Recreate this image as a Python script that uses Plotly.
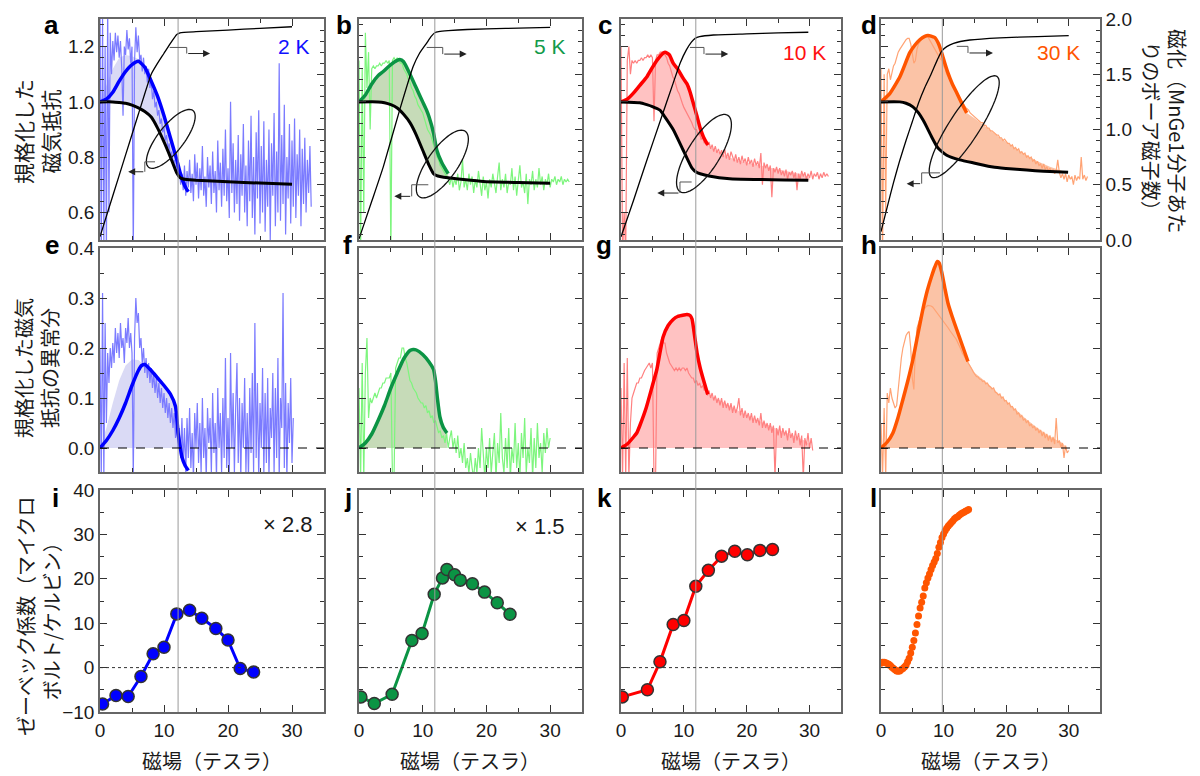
import numpy as np
import plotly.graph_objects as go

# ======================= DATA =======================
# Row 1 raw normalized magnetoresistance (field grid step: 0.2 T for 2 K, 0.25 T otherwise)
mr_raw_2K = [1.35, 0.45, 1.3, 0.5, 1.2, 0.45, 1.35, 0.6, 1.25,
             1.1, 1.22, 1.15, 1.25, 1.18, 1.24, 1.16, 1.22, 1.12, 0.95,
             1.2, 1.17, 1.26, 1.19, 1.23, 1.14, 1.2, 0.45, 1.15, 1.27,
             1.18, 1.24, 1.15, 1.17, 1.11, 1.16, 1.1, 1.13, 1.07, 1.12,
             1.05, 1.08, 1.01, 1.04, 0.98, 1.0, 0.95, 0.97, 0.92, 0.94,
             0.89, 0.91, 0.86, 0.88, 0.83, 0.85, 0.8, 0.82, 0.78, 0.79,
             0.76, 0.77, 0.73, 0.76, 0.7, 0.74, 0.68,
             0.77, 0.66, 0.75, 0.69, 0.79, 0.67, 0.74, 0.64, 0.81, 0.7,
             0.78, 0.65, 0.76, 0.68, 0.84, 0.66, 0.73, 0.62, 0.8, 0.69,
             0.77, 0.63, 0.82, 0.67, 0.75, 0.6, 0.86, 0.68, 0.78, 0.62,
             0.83, 0.66, 0.9, 0.64, 0.76, 0.58, 1.0, 0.67, 0.85, 0.6,
             0.79, 0.63, 0.88, 0.57, 0.81, 0.66, 0.92, 0.6, 0.77, 0.55,
             0.86, 0.64, 0.95, 0.58, 0.8, 0.52, 0.89, 0.65, 0.97, 0.56,
             0.84, 0.6, 0.93, 0.53, 0.79, 0.62, 0.9, 0.5, 0.85, 0.66,
             0.96, 0.55, 0.82, 0.6, 1.14, 0.57, 0.88, 0.63, 0.99, 0.52,
             0.8, 0.65, 0.92, 0.56, 0.86, 0.62, 0.94, 0.58, 0.81, 0.66,
             0.9, 0.55, 0.83, 0.63, 0.87, 0.6, 0.79, 0.67, 0.84, 0.62]
mr_raw_5K = [1.15, 0.45, 1.12, 0.6, 1.25, 1.05, 1.18, 0.9, 1.12, 1.13,
             1.12, 1.13, 1.13, 1.14, 1.13, 1.14, 1.14, 1.15, 1.14, 1.15,
             0.45, 1.15, 1.16, 1.15, 1.16, 1.15, 1.14, 1.14, 1.12, 1.11,
             1.1, 1.08, 1.07, 1.05, 1.04, 1.02, 1.01, 0.99, 0.98, 0.97,
             0.96, 0.94, 0.92, 0.9, 0.89, 0.88, 0.86, 0.84, 0.82, 0.8,
             0.79, 0.77, 0.76, 0.75, 0.74, 0.73, 0.72, 0.7, 0.73, 0.69,
             0.72, 0.7, 0.74, 0.68, 0.71, 0.79, 0.69, 0.72, 0.68, 0.74,
             0.7, 0.73, 0.67, 0.72, 0.69, 0.75, 0.7, 0.66, 0.73, 0.68,
             0.71, 0.65, 0.72, 0.69, 0.74, 0.7, 0.67, 0.73, 0.78, 0.68,
             0.72, 0.69, 0.74, 0.67, 0.71, 0.7, 0.76, 0.68, 0.73, 0.66,
             0.72, 0.77, 0.69, 0.71, 0.67, 0.74, 0.63, 0.72, 0.7, 0.75,
             0.68, 0.72, 0.69, 0.76, 0.7, 0.73, 0.68, 0.72, 0.7, 0.74,
             0.69, 0.72, 0.71, 0.73, 0.7, 0.72, 0.71, 0.73, 0.7, 0.72,
             0.71, 0.72, 0.71]
mr_raw_10K = [1.2, 0.45, 0.6, 0.45, 1.15, 1.2, 1.1, 1.15, 1.14, 1.15,
              1.14, 1.15, 1.15, 1.16, 1.15, 1.16, 1.16, 1.17, 1.16, 1.17,
              1.16, 0.93, 1.15, 1.17, 1.17, 1.18, 1.18, 1.18, 1.17, 1.16,
              1.14, 1.13, 1.11, 1.09, 1.08, 1.06, 1.04, 1.03, 1.01, 0.995,
              0.98, 0.97, 0.955, 0.945, 0.935, 0.925, 0.91, 0.9, 0.9, 0.88,
              0.885, 0.865, 0.87, 0.85, 0.86, 0.84, 0.855, 0.83, 0.845, 0.82,
              0.84, 0.815, 0.83, 0.81, 0.825, 0.8, 0.83, 0.795, 0.815, 0.79,
              0.82, 0.8, 0.785, 0.81, 0.78, 0.8, 0.775, 0.805, 0.78, 0.795,
              0.77, 0.8, 0.775, 0.79, 0.765, 0.795, 0.77, 0.785, 0.76, 0.815,
              0.7, 0.78, 0.76, 0.775, 0.75, 0.77, 0.655, 0.76, 0.745, 0.765,
              0.74, 0.76, 0.735, 0.75, 0.73, 0.755, 0.72, 0.745, 0.735, 0.75,
              0.725, 0.745, 0.68, 0.74, 0.72, 0.75, 0.73, 0.745, 0.72, 0.74,
              0.725, 0.75, 0.72, 0.74, 0.73, 0.745, 0.72, 0.74, 0.725, 0.745,
              0.73, 0.74, 0.73]
mr_raw_30K = [1.12, 0.45, 1.1, 0.6, 1.1, 1.12, 1.08, 1.11, 1.13, 1.14,
              1.16, 1.18, 1.19, 1.2, 1.21, 1.22, 1.225, 1.23, 1.23, 1.21,
              1.17, 1.14, 1.15, 1.19, 1.21, 1.22, 1.23, 1.235, 1.24, 1.24,
              1.235, 1.225, 1.21, 1.2, 1.19, 1.18, 1.17, 1.16, 1.155, 1.15,
              1.13, 1.12, 1.1, 1.09, 1.08, 1.07, 1.06, 1.045, 1.035, 1.025,
              1.015, 1.005, 0.995, 0.99, 0.98, 0.975, 0.97, 0.96, 0.955, 0.95,
              0.945, 0.94, 0.935, 0.93, 0.925, 0.925, 0.915, 0.915, 0.905, 0.905,
              0.895, 0.895, 0.89, 0.885, 0.88, 0.88, 0.87, 0.87, 0.86, 0.865,
              0.855, 0.85, 0.85, 0.84, 0.845, 0.83, 0.835, 0.825, 0.83, 0.815,
              0.82, 0.81, 0.815, 0.8, 0.805, 0.795, 0.8, 0.785, 0.79, 0.775,
              0.785, 0.77, 0.775, 0.76, 0.775, 0.755, 0.765, 0.75, 0.76, 0.745,
              0.755, 0.74, 0.75, 0.79, 0.745, 0.725, 0.74, 0.72, 0.74, 0.71,
              0.735, 0.72, 0.73, 0.7, 0.735, 0.715, 0.73, 0.72, 0.8, 0.72,
              0.735, 0.715, 0.73]

# Row 2 raw anomalous part
an_raw_2K = [0.2, -0.06, 0.31, -0.06, 0.25, 0.05, 0.19, 0.13, 0.2, 0.16,
             0.21, 0.17, 0.24, 0.19, 0.23, 0.18, 0.25, 0.2, 0.22, 0.17,
             0.24, 0.21, 0.26, 0.2, 0.23, 0.19, -0.06, 0.22, 0.3, 0.25,
             0.27, 0.2, 0.22, 0.17, 0.2, 0.15, 0.18, 0.14, 0.17, 0.13,
             0.16, 0.12, 0.15, 0.11, 0.14, 0.1, 0.13, 0.09, 0.12, 0.08,
             0.11, 0.07, 0.1, 0.06, 0.09, 0.05, 0.08, 0.04, 0.07, 0.02,
             0.05, 0.0, 0.04, -0.02, 0.06, -0.03, 0.04, -0.05, 0.06, -0.02,
             0.08, -0.04, 0.03, -0.06, 0.07, 0.0, 0.09, -0.03, 0.05, -0.05,
             0.1, -0.02, 0.04, -0.06, 0.08, 0.01, 0.06, -0.05, 0.11, -0.01,
             0.05, -0.06, 0.12, 0.0, 0.07, -0.05, 0.1, -0.02, 0.18, -0.04,
             0.06, -0.06, 0.19, 0.0, 0.11, -0.05, 0.08, 0.17, -0.03, 0.1,
             -0.06, 0.09, 0.0, 0.14, -0.05, 0.07, -0.06, 0.12, -0.01, 0.15,
             -0.05, 0.25, -0.02, 0.13, -0.06, 0.09, 0.0, 0.16, -0.05, 0.11,
             -0.03, 0.14, -0.06, 0.08, 0.02, 0.15, -0.05, 0.12, -0.02, 0.18,
             -0.06, 0.1, 0.04, 0.31, -0.04, 0.13, -0.06, 0.09, 0.01, 0.14,
             -0.03, 0.06]
an_raw_5K = [0.12, -0.06, 0.17, -0.06, 0.15, 0.22, 0.06, 0.1, 0.09, 0.1,
             0.11, 0.1, 0.11, 0.12, 0.12, 0.13, 0.13, 0.14, 0.14, 0.14,
             0.15, -0.06, -0.06, 0.16, 0.17, 0.18, 0.18, 0.2, 0.2, 0.18,
             0.17, 0.15, 0.135, 0.13, 0.12, 0.115, 0.11, 0.1, 0.095, 0.09,
             0.09, 0.08, 0.085, 0.07, 0.075, 0.06, 0.065, 0.05, 0.055, 0.04,
             0.03, 0.035, 0.02, 0.025, 0.01, 0.03, 0.0, 0.02, 0.035, 0.0,
             0.02, -0.01, 0.025, -0.02, 0.0, -0.03, 0.01, -0.04, -0.02, -0.05,
             -0.01, -0.04, -0.06, -0.02, -0.05, 0.0, -0.04, 0.04, -0.03, -0.06,
             0.0, -0.04, 0.02, -0.05, -0.01, 0.03, -0.06, 0.01, -0.03, 0.07,
             -0.02, -0.05, 0.02, -0.04, 0.04, -0.06, 0.0, -0.03, 0.05, -0.04,
             0.01, -0.06, 0.03, -0.02, 0.06, -0.05, 0.0, -0.03, 0.04, -0.06,
             0.02, -0.04, 0.05, -0.02, 0.01, -0.05, 0.03, -0.01, 0.04, 0.0,
             0.02]
an_raw_10K = [0.12, -0.06, 0.17, -0.06, 0.18, -0.06, 0.05, 0.1, 0.11, 0.12,
              0.13, 0.13, 0.14, 0.14, 0.15, 0.155, 0.16, 0.165, 0.17, 0.16,
              0.17, -0.06, -0.06, 0.19, 0.2, 0.21, 0.22, 0.21, 0.21, 0.19,
              0.18, 0.17, 0.165, 0.16, 0.155, 0.16, 0.155, 0.16, 0.155, 0.16,
              0.16, 0.155, 0.16, 0.15, 0.145, 0.14, 0.14, 0.13, 0.135, 0.125,
              0.13, 0.12, 0.125, 0.115, 0.12, 0.105, 0.115, 0.1, 0.11, 0.095,
              0.105, 0.09, 0.1, 0.085, 0.1, 0.08, 0.095, 0.08, 0.09, 0.075,
              0.09, 0.07, 0.085, 0.07, 0.08, 0.1, 0.065, 0.08, 0.06, 0.075,
              0.06, 0.07, 0.055, 0.07, 0.05, 0.065, 0.05, 0.06, 0.045, 0.07,
              0.04, 0.055, 0.04, 0.05, 0.035, 0.05, 0.03, 0.045, -0.06, 0.04,
              0.025, 0.045, 0.02, 0.04, 0.025, 0.035, 0.015, 0.04, 0.02, 0.03,
              0.01, 0.035, 0.015, 0.03, 0.005, 0.025, -0.06, 0.02, 0.005, 0.03,
              0.0, 0.02, -0.005]
an_raw_30K = [0.05, -0.06, 0.08, -0.06, 0.11, 0.09, 0.12, 0.1, 0.09, 0.08,
              0.085, 0.12, 0.15, 0.18, 0.2, 0.215, 0.225, 0.23, 0.233, 0.2,
              0.14, 0.117, 0.2, 0.24, 0.25, 0.26, 0.27, 0.275, 0.28, 0.283,
              0.285, 0.285, 0.284, 0.282, 0.278, 0.273, 0.27, 0.266, 0.262, 0.258,
              0.253, 0.249, 0.244, 0.24, 0.235, 0.23, 0.226, 0.222, 0.218, 0.212,
              0.205, 0.198, 0.19, 0.185, 0.18, 0.175, 0.17, 0.163, 0.158, 0.152,
              0.148, 0.143, 0.142, 0.138, 0.137, 0.133, 0.134, 0.128, 0.13, 0.124,
              0.122, 0.118, 0.12, 0.112, 0.11, 0.106, 0.108, 0.1, 0.102, 0.094,
              0.095, 0.088, 0.09, 0.082, 0.083, 0.076, 0.078, 0.068, 0.07, 0.062,
              0.065, 0.056, 0.058, 0.05, 0.055, 0.044, 0.048, 0.04, 0.044, 0.035,
              0.04, 0.03, 0.036, 0.024, 0.032, 0.02, 0.028, 0.015, 0.025, 0.012,
              0.022, 0.008, 0.06, 0.01, 0.015, 0.002, 0.01, -0.02, 0.005, -0.01,
              -0.005]
RAW_STEP = [0.2, 0.25, 0.25, 0.25]

# Row 1 thick coloured curves (smoothed MR)
fit_mr_x = [[0, 1, 2, 3, 4, 5, 6, 7, 8, 9, 10, 11, 12, 12.5, 13, 13.5, 13.8],
            [0, 1, 2, 3, 3.8, 5, 6, 6.4, 7, 8, 9, 10, 10.6, 11, 11.7, 12.2, 13, 14],
            [0, 1, 1.9, 3, 4.1, 5, 5.7, 6.4, 7, 7.7, 8.3, 9, 9.9, 10.5, 11, 11.5, 12.1, 12.6, 13.1, 13.8],
            [0, 1.4, 3, 4.6, 5.4, 6.2, 7, 7.5, 8, 8.6, 9.2, 9.7, 10.2, 10.7, 11.4, 12.1, 12.9, 13.7]]
fit_mr_y = [[1.0, 1.01, 1.035, 1.075, 1.11, 1.135, 1.147, 1.125, 1.075, 1.02, 0.95, 0.87, 0.79, 0.745, 0.71, 0.685, 0.675],
            [1.0, 1.025, 1.065, 1.095, 1.11, 1.135, 1.15, 1.153, 1.145, 1.1, 1.05, 1.0, 0.97, 0.945, 0.887, 0.826, 0.78, 0.74],
            [1.0, 1.01, 1.03, 1.06, 1.09, 1.125, 1.15, 1.17, 1.18, 1.17, 1.14, 1.12, 1.085, 1.065, 1.035, 0.995, 0.947, 0.905, 0.874, 0.844],
            [1.0, 1.03, 1.09, 1.178, 1.205, 1.225, 1.237, 1.24, 1.238, 1.233, 1.21, 1.178, 1.14, 1.105, 1.065, 1.033, 0.995, 0.96]]

# Row 1 black curves (background MR)
bg_x = [[0, 2, 3, 4, 5, 6, 7, 8, 9, 10, 11, 12, 12.5, 13, 14, 15, 20, 25, 30],
        [0, 3, 4, 5, 6, 7, 8, 9, 10, 11, 11.7, 12.2, 12.7, 14, 16, 19.5, 25, 30],
        [0, 3, 4.1, 5, 6.2, 7, 8.3, 9.9, 11.3, 12, 12.6, 14, 17.3, 22, 26, 29.8],
        [0, 3, 4, 5.1, 6, 6.7, 7.4, 8.1, 9.1, 10.5, 12.6, 15, 17.9, 20, 23.3, 26, 29.9]]
bg_y = [[1.0, 1.0, 0.998, 0.995, 0.988, 0.978, 0.965, 0.945, 0.905, 0.855, 0.8, 0.742, 0.726, 0.721, 0.718, 0.716, 0.711, 0.706, 0.702],
        [1.0, 1.0, 0.997, 0.99, 0.978, 0.955, 0.925, 0.88, 0.825, 0.77, 0.74, 0.733, 0.73, 0.725, 0.72, 0.712, 0.708, 0.705],
        [1.0, 0.997, 0.99, 0.983, 0.97, 0.945, 0.9, 0.825, 0.76, 0.745, 0.74, 0.732, 0.722, 0.719, 0.717, 0.716],
        [1.0, 1.0, 0.995, 0.982, 0.96, 0.935, 0.905, 0.873, 0.833, 0.807, 0.79, 0.778, 0.764, 0.759, 0.753, 0.749, 0.745]]

# Row 1 shaded region upper boundary
fill_mr_x = [[0, 1, 2, 3, 4, 5, 6, 7, 8, 9, 10, 11, 12, 12.5, 13, 13.3],
             fit_mr_x[1],
             fit_mr_x[2] + [15, 17, 19, 21, 23, 25, 27, 29, 30],
             fit_mr_x[3] + [15, 17, 19, 21, 23, 25, 27, 29, 30]]
fill_mr_y = [[1.0, 1.06, 1.12, 1.16, 1.17, 1.165, 1.155, 1.125, 1.075, 1.02, 0.95, 0.87, 0.79, 0.745, 0.722, 0.72],
             fit_mr_y[1],
             fit_mr_y[2] + [0.825, 0.8, 0.785, 0.775, 0.765, 0.755, 0.745, 0.737, 0.725],
             fit_mr_y[3] + [0.94, 0.905, 0.87, 0.84, 0.81, 0.785, 0.765, 0.75, 0.745]]

# Magnetization (Bohr magnetons per MnGe)
mag_x = [[0, 2, 4, 6, 8, 9, 10, 11, 12, 12.5, 15, 20, 25, 30],
         [0, 2, 3.8, 6.4, 8.5, 9.5, 10.6, 11.3, 11.9, 12.5, 14, 17, 23, 30],
         [0, 2, 4.1, 6.2, 8.3, 9.4, 10.4, 11.2, 11.8, 12.5, 14.7, 20, 25, 29.8],
         [0, 1, 2, 3, 4, 5, 6, 7, 8, 9, 9.7, 10.5, 11.6, 14.2, 19, 25, 30]]
mag_y = [[0.03, 0.4, 0.77, 1.14, 1.5, 1.6, 1.69, 1.78, 1.86, 1.875, 1.885, 1.9, 1.915, 1.93],
         [0.01, 0.35, 0.66, 1.18, 1.57, 1.69, 1.78, 1.84, 1.875, 1.885, 1.895, 1.905, 1.915, 1.925],
         [0.03, 0.36, 0.72, 1.07, 1.42, 1.6, 1.72, 1.79, 1.825, 1.84, 1.855, 1.865, 1.875, 1.88],
         [0.075, 0.3, 0.52, 0.72, 0.9, 1.07, 1.24, 1.38, 1.5, 1.63, 1.71, 1.75, 1.78, 1.81, 1.83, 1.84, 1.85]]

# Row 2 thick coloured curves (anomalous part)
fit_an_x = [[0, 1, 2, 3, 4, 5, 6, 6.5, 7, 8, 9, 10, 11, 11.8, 12.2, 12.5, 12.8, 13.3, 13.8],
            [0, 1, 2, 3, 4, 5, 6, 7, 8, 8.5, 9, 10, 11, 11.7, 12.0, 12.3, 12.7, 13.2, 13.8],
            [0, 1, 2, 2.5, 3, 4, 5, 5.7, 6.7, 7.5, 8.3, 9, 10, 10.5, 11, 11.3, 11.7, 12.1, 12.6, 13.1, 13.8],
            [0, 1, 1.9, 2.7, 3.5, 4.3, 5.1, 5.9, 6.7, 7.4, 8.1, 8.6, 9.0, 9.3, 9.7, 10.2, 10.7, 11.4, 12.1, 13.0, 13.9]]
fit_an_y = [[0, 0.015, 0.035, 0.06, 0.09, 0.125, 0.155, 0.165, 0.167, 0.155, 0.14, 0.125, 0.108, 0.083, 0.03, 0.005, -0.018, -0.035, -0.045],
            [0, 0.01, 0.028, 0.055, 0.085, 0.12, 0.15, 0.178, 0.195, 0.197, 0.196, 0.187, 0.172, 0.157, 0.135, 0.1, 0.062, 0.042, 0.03],
            [0, 0.008, 0.022, 0.03, 0.045, 0.08, 0.125, 0.157, 0.222, 0.245, 0.257, 0.263, 0.266, 0.267, 0.265, 0.258, 0.225, 0.19, 0.16, 0.137, 0.107],
            [0, 0.012, 0.03, 0.06, 0.097, 0.135, 0.177, 0.228, 0.278, 0.315, 0.344, 0.362, 0.373, 0.37, 0.352, 0.32, 0.29, 0.262, 0.237, 0.205, 0.173]]
fill_an_x = [[0, 1, 2, 3, 4, 5, 6, 6.7, 7, 8, 9, 10, 11, 11.8, 12.2, 12.5],
             fit_an_x[1],
             fit_an_x[2] + [15, 17, 19, 21, 23, 25, 27, 29, 30, 30.3],
             fit_an_x[3] + [15, 17, 19, 21, 23, 25, 27, 29, 29.7]]
fill_an_y = [[0, 0.04, 0.09, 0.135, 0.165, 0.177, 0.176, 0.168, 0.167, 0.155, 0.14, 0.125, 0.108, 0.083, 0.03, 0.005],
             fit_an_y[1],
             fit_an_y[2] + [0.1, 0.087, 0.072, 0.06, 0.048, 0.037, 0.027, 0.016, 0.008, 0.0],
             fit_an_y[3] + [0.15, 0.13, 0.106, 0.083, 0.06, 0.04, 0.023, 0.01, 0.0]]

# Row 3 Seebeck coefficient (uV/K)
seebeck_x = [[0.4, 2.5, 4.4, 6.4, 8.3, 10, 12, 14, 15.9, 18.1, 20, 21.9, 24],
             [0.3, 2.4, 5.2, 8.3, 9.9, 11.8, 13.1, 13.8, 15.0, 15.9, 17.8, 19.7, 21.7, 23.7],
             [0.2, 4.2, 6.2, 8.3, 10.0, 11.9, 13.9, 16.0, 18.1, 20.1, 22.1, 24.1]]
seebeck_y = [[-8.2, -6.3, -6.5, -2.0, 3.1, 4.6, 12.1, 12.9, 11.1, 8.8, 6.2, -0.2, -1.0],
             [-6.6, -8.1, -6.0, 6.1, 7.7, 16.5, 20.2, 22.1, 20.9, 19.7, 18.9, 17.0, 14.6, 12.0],
             [-6.6, -5.0, 1.3, 9.7, 10.6, 18.3, 21.9, 25.1, 26.2, 25.4, 26.4, 26.6]]
seebeck_30K_step = 0.25
seebeck_30K = [1.0, 1.2, 1.2, 1.1, 0.95, 0.75, 0.45, 0.1, -0.2, -0.5, -0.75, -0.85, -0.75,
               -0.45, -0.2, 0.15, 0.55, 1.3, 2.1, 3.3, 4.6, 6.1, 7.8, 9.7, 11.6, 13.4,
               14.7, 16.1, 17.9, 19.1, 20.2, 21.1, 22.1, 23.0, 23.8, 24.6, 25.7, 27.1,
               28.2, 29.3, 30.1, 30.8, 31.4, 31.9, 32.3, 32.7, 33.1, 33.5, 33.8, 34.0,
               34.3, 34.6, 34.8, 35.0, 35.2, 35.4, 35.6]

kink_field = [12.2, 11.9, 11.9, 9.8]
temps = ['2 K', '5 K', '10 K', '30 K']
scale_labels = ['× 2.8', '× 1.5', '', '']
panel_letters = ['abcd', 'efgh', 'ijkl']
mr_ticks = [0.6, 0.8, 1.0, 1.2]
an_ticks = [0.0, 0.1, 0.2, 0.3, 0.4]
sb_ticks = [-10, 0, 10, 20, 30, 40]
m_ticks = [0.0, 0.5, 1.0, 1.5, 2.0]
field_ticks = [0, 10, 20, 30]

# ======================= STYLE =======================
# The page body has an 8 px margin, so the figure is drawn 8 px smaller and
# every screen-pixel position is shifted by that offset.
OFF = 8
W, H = 1200 - OFF, 776 - OFF
COLS = [(100, 324), (359, 582), (621, 841), (881, 1100)]
ROWS = [(19, 240), (248, 472), (490, 712)]
YR = [[0.5, 1.3], [-0.048, 0.4], [-10, 40]]
NUM = 'Liberation Sans, Arial, sans-serif'
JP = 'Noto Sans CJK JP, sans-serif'
THICK = ['#0000FF', '#0B9444', '#FF0000', '#FF5500']
RAW = ['#7B7BFF', '#7DF57D', '#FF8080', '#FFA374']
FILL = ['#DADAF5', '#C6DBB8', '#FFC2C2', '#FBC3A6']
TXT = ['#1010FF', '#119A4A', '#FF1010', '#FF5500']
FRAME = '#666666'


def sfx(i):
    return '' if i == 1 else str(i)


def px2paper_x(px):
    return (px - OFF) / W


def px2paper_y(py):
    return 1 - (py - OFF) / H


layout = dict(width=W, height=H, margin=dict(l=0, r=0, t=0, b=0, pad=0, autoexpand=False),
              plot_bgcolor='white', paper_bgcolor='white', showlegend=False)

base_ax = dict(showline=True, linecolor=FRAME, linewidth=1.5, ticks='inside', automargin=False,
               ticklen=7, tickwidth=1, tickcolor='#333', showgrid=False, zeroline=False,
               tickfont=dict(family=NUM, size=19, color='#1a1a1a'))

for r in range(3):
    for c in range(4):
        i = r * 4 + c + 1
        x0, x1 = COLS[c]
        y0, y1 = ROWS[r]
        xa = dict(base_ax, domain=[px2paper_x(x0), px2paper_x(x1)], anchor='y' + sfx(i),
                  range=[0, 35], tickvals=field_ticks, mirror='ticks',
                  showticklabels=(r == 2),
                  minor=dict(ticks='inside', ticklen=4, dtick=5, tickcolor='#333'))
        ya = dict(base_ax, domain=[px2paper_y(y1), px2paper_y(y0)], anchor='x' + sfx(i),
                  range=YR[r], showticklabels=(c == 0))
        if r == 0:
            ya.update(tickvals=mr_ticks, tickformat='.1f', mirror=True,
                      minor=dict(ticks='inside', ticklen=4, dtick=0.04, tick0=0, tickcolor='#333'))
        elif r == 1:
            ya.update(tickvals=an_ticks, tickformat='.1f', mirror='ticks',
                      minor=dict(ticks='inside', ticklen=4, dtick=0.05, tick0=0, tickcolor='#333'))
        else:
            ya.update(tickvals=sb_ticks, mirror='ticks',
                      minor=dict(ticks='inside', ticklen=4, dtick=5, tick0=0, tickcolor='#333'))
        layout['xaxis' + sfx(i)] = xa
        layout['yaxis' + sfx(i)] = ya
# right axes for magnetization
for c in range(4):
    layout['yaxis' + str(13 + c)] = dict(base_ax, overlaying='y' + sfx(c + 1), anchor='x' + sfx(c + 1),
                                          side='right', range=[0, 2.0], tickvals=m_ticks, tickformat='.1f',
                                          showticklabels=(c == 3),
                                          minor=dict(ticks='inside', ticklen=4, dtick=0.1, tick0=0, tickcolor='#333'))

fig = go.Figure(layout=layout)


def add(x, y, xi, yi, **kw):
    kw.setdefault('mode', 'lines')
    fig.add_trace(go.Scatter(x=list(x), y=list(y), xaxis='x' + sfx(xi), yaxis='y' + sfx(yi),
                             hoverinfo='skip', showlegend=False, **kw))


raw_mr = [mr_raw_2K, mr_raw_5K, mr_raw_10K, mr_raw_30K]
raw_an = [an_raw_2K, an_raw_5K, an_raw_10K, an_raw_30K]

for c in range(4):
    i1, i2, i3 = c + 1, c + 5, c + 9
    # ---- Row 1 ----
    tx, ty = fill_mr_x[c], fill_mr_y[c]
    bx, by = bg_x[c], bg_y[c]
    inner = [(x, y) for x, y in zip(bx, by) if tx[0] < x < tx[-1]]
    bot = [(tx[0], float(np.interp(tx[0], bx, by)))] + inner + [(tx[-1], float(np.interp(tx[-1], bx, by)))]
    px_ = list(tx) + [p[0] for p in bot[::-1]]
    py_ = list(ty) + [p[1] for p in bot[::-1]]
    add(px_, py_, i1, i1, fill='toself', fillcolor=FILL[c], line=dict(width=0))
    xr = np.round(np.arange(len(raw_mr[c])) * RAW_STEP[c], 3)
    add(xr, raw_mr[c], i1, i1, line=dict(color=RAW[c], width=1.2))
    add(fit_mr_x[c], fit_mr_y[c], i1, i1, line=dict(color=THICK[c], width=3.5, shape='spline', smoothing=0.5))
    add(bg_x[c], bg_y[c], i1, i1, line=dict(color='#000000', width=3, shape='spline', smoothing=0.5))
    add(mag_x[c], mag_y[c], i1, 13 + c, line=dict(color='#000000', width=1.3, shape='spline', smoothing=0.4))
    # ---- Row 2 ----
    add(fill_an_x[c], fill_an_y[c], i2, i2, fill='tozeroy', fillcolor=FILL[c], line=dict(width=0))
    xr2 = np.round(np.arange(len(raw_an[c])) * RAW_STEP[c], 3)
    add(xr2, raw_an[c], i2, i2, line=dict(color=RAW[c], width=1.2))
    add(fit_an_x[c], fit_an_y[c], i2, i2, line=dict(color=THICK[c], width=3.5, shape='spline', smoothing=0.5))
    # ---- Row 3 ----
    if c < 3:
        add(seebeck_x[c], seebeck_y[c], i3, i3, mode='lines+markers',
            line=dict(color=THICK[c], width=3),
            marker=dict(size=12, color=THICK[c], line=dict(color='#333333', width=1.5)))
    else:
        xs = np.round(np.arange(len(seebeck_30K)) * seebeck_30K_step, 3)
        add(xs, seebeck_30K, i3, i3, mode='markers', marker=dict(size=7, color=THICK[c]))

shapes = []
annotations = []
for c in range(4):
    ax1 = sfx(c + 1)
    # vertical reference line through all rows
    shapes.append(dict(type='line', xref='x' + ax1, yref='paper', x0=kink_field[c], x1=kink_field[c],
                       y0=px2paper_y(ROWS[2][1]), y1=px2paper_y(ROWS[0][0]),
                       line=dict(color='#9a9a9a', width=1)))
    # zero lines
    shapes.append(dict(type='line', xref='x' + sfx(c + 5), yref='y' + sfx(c + 5), x0=0, x1=35, y0=0, y1=0,
                       line=dict(color='#000000', width=1, dash='dash')))
    shapes.append(dict(type='line', xref='x' + sfx(c + 9), yref='y' + sfx(c + 9), x0=0, x1=35, y0=0, y1=0,
                       line=dict(color='#333333', width=1, dash='dot')))
    # temperature label
    annotations.append(dict(text=temps[c], xref='x' + ax1, yref='y' + ax1,
                            x=[33.2, 32.8, 32.9, 32.1][c], y=[1.2, 1.2, 1.18, 1.18][c],
                            xanchor='right', yanchor='middle', showarrow=False,
                            font=dict(family=NUM, size=21, color=TXT[c])))
    if scale_labels[c]:
        annotations.append(dict(text=scale_labels[c], xref='x' + sfx(c + 9), yref='y' + sfx(c + 9),
                                x=[33.6, 32.7][c], y=[32.2, 31.7][c], xanchor='right', yanchor='middle',
                                showarrow=False, font=dict(family=NUM, size=22, color='#1a1a1a')))
    # x-axis title
    annotations.append(dict(text='磁場（テスラ）', xref='paper', yref='paper',
                            x=px2paper_x((COLS[c][0] + COLS[c][1]) / 2), y=px2paper_y(760),
                            xanchor='center', yanchor='middle', showarrow=False,
                            font=dict(family=JP, size=20, color='#1a1a1a')))
    # panel letters
    for r in range(3):
        annotations.append(dict(text='<b>%s</b>' % panel_letters[r][c], xref='paper', yref='paper',
                                x=px2paper_x([61, 354, 614, 879][c]),
                                y=px2paper_y([25, 245, 498][r]),
                                xanchor='right', yanchor='middle', showarrow=False,
                                font=dict(family=NUM, size=26, color='#000000')))

# ellipses and step arrows (row 1)
ellipses = [(11.06, 0.866, 36, 13, 52), (13.08, 0.775, 40, 15, 55),
            (13.2, 0.813, 45, 16, 58), (13.3, 0.91, 60, 15, 57)]
arrows_up = [[(10.9, 1.197), (13.55, 1.197), (13.55, 1.175), (17.2, 1.175)],
             [(10.63, 1.197), (13.14, 1.197), (13.14, 1.173), (16.9, 1.173)],
             [(10.97, 1.197), (13.2, 1.197), (13.2, 1.173), (17.06, 1.173)],
             [(12.1, 1.201), (13.9, 1.201), (13.9, 1.177), (17.9, 1.177)]]
arrows_dn = [[(8.6, 0.783), (7.0, 0.783), (7.0, 0.747), (4.4, 0.747)],
             [(10.88, 0.70), (8.27, 0.70), (8.27, 0.658), (5.54, 0.658)],
             [(11.24, 0.71), (9.38, 0.71), (9.38, 0.67), (5.77, 0.67)],
             [(9.42, 0.743), (6.5, 0.743), (6.5, 0.704), (4.1, 0.704)]]
for c in range(4):
    ax1 = sfx(c + 1)
    sx = (COLS[c][1] - COLS[c][0]) / 35.0
    sy = (ROWS[0][1] - ROWS[0][0]) / (YR[0][1] - YR[0][0])
    cx, cy, a, b, ang = ellipses[c]
    th = np.deg2rad(ang)
    t = np.linspace(0, 2 * np.pi, 73)
    dx = a * np.cos(t) * np.cos(th) - b * np.sin(t) * np.sin(th)
    dy = a * np.cos(t) * np.sin(th) + b * np.sin(t) * np.cos(th)
    ex, ey = cx + dx / sx, cy + dy / sy
    path = 'M ' + ' L '.join('%.4f,%.4f' % (u, v) for u, v in zip(ex, ey)) + ' Z'
    shapes.append(dict(type='path', path=path, xref='x' + ax1, yref='y' + ax1,
                       line=dict(color='#111111', width=1.3)))
    for pts in (arrows_up[c], arrows_dn[c]):
        p = 'M %.3f,%.4f L %.3f,%.4f L %.3f,%.4f' % (pts[0][0], pts[0][1], pts[1][0], pts[1][1], pts[2][0], pts[2][1])
        shapes.append(dict(type='path', path=p, xref='x' + ax1, yref='y' + ax1,
                           line=dict(color='#555555', width=1)))
        annotations.append(dict(x=pts[3][0], y=pts[3][1], ax=pts[2][0], ay=pts[2][1],
                                xref='x' + ax1, yref='y' + ax1, axref='x' + ax1, ayref='y' + ax1,
                                text='', showarrow=True, arrowhead=2, arrowsize=1.4,
                                arrowwidth=1, arrowcolor='#222222'))

# y-axis titles
annotations.append(dict(text='規格化した<br>磁気抵抗', xref='paper', yref='paper',
                        x=px2paper_x(36), y=px2paper_y(132), textangle=-90, showarrow=False,
                        xanchor='center', yanchor='middle',
                        font=dict(family=JP, size=21, color='#1a1a1a')))
annotations.append(dict(text='規格化した磁気<br>抵抗の異常分', xref='paper', yref='paper',
                        x=px2paper_x(36), y=px2paper_y(368), textangle=-90, showarrow=False,
                        xanchor='center', yanchor='middle',
                        font=dict(family=JP, size=20, color='#1a1a1a')))
annotations.append(dict(text='ゼーベック係数（マイクロ<br>ボルト/ケルビン）', xref='paper', yref='paper',
                        x=px2paper_x(38), y=px2paper_y(616), textangle=-90, showarrow=False,
                        xanchor='center', yanchor='middle',
                        font=dict(family=JP, size=20, color='#1a1a1a')))
annotations.append(dict(text='磁化（MnGe1分子あた<br>りのボーア磁子数）', xref='paper', yref='paper',
                        x=px2paper_x(1165), y=px2paper_y(131), textangle=90, showarrow=False,
                        xanchor='center', yanchor='middle',
                        font=dict(family=JP, size=20, color='#1a1a1a')))

fig.update_layout(shapes=shapes, annotations=annotations)
fig.write_html('out.html')
